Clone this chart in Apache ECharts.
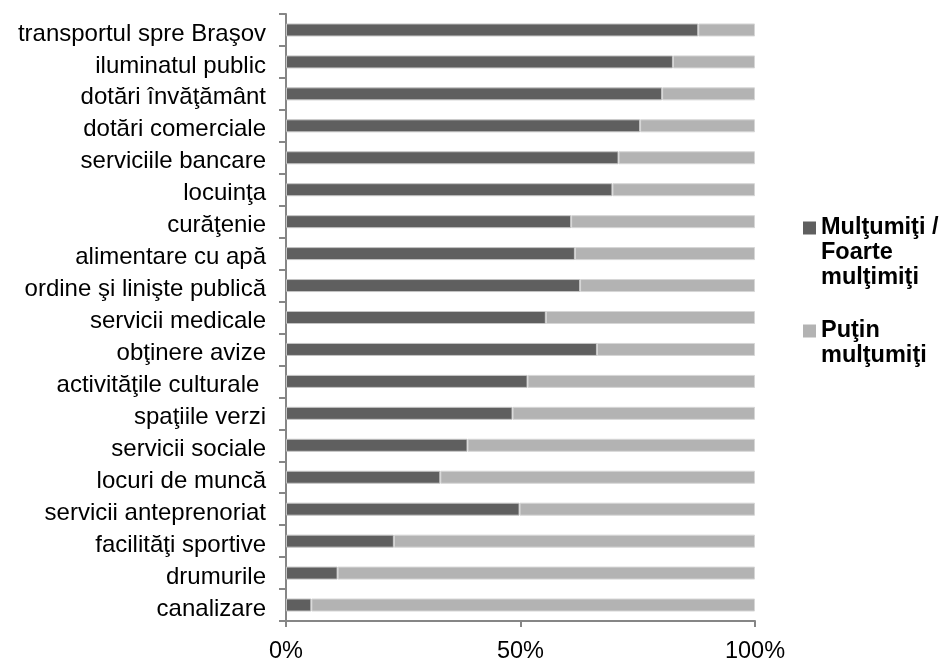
<!DOCTYPE html>
<html>
<head>
<meta charset="utf-8">
<script src="https://cdn.jsdelivr.net/npm/echarts@6/dist/echarts.min.js"></script>
<style>
html,body{margin:0;padding:0;background:#fff;}
#chart{width:944px;height:659px;}
</style>
</head>
<body>
<div id="chart"></div>
<script>
var categories = [
  'transportul spre Braşov',
  'iluminatul public',
  'dotări învăţământ',
  'dotări comerciale',
  'serviciile bancare',
  'locuinţa',
  'curăţenie',
  'alimentare cu apă',
  'ordine şi linişte publică',
  'servicii medicale',
  'obţinere avize',
  'activităţile culturale ',
  'spaţiile verzi',
  'servicii sociale',
  'locuri de muncă',
  'servicii anteprenoriat',
  'facilităţi sportive',
  'drumurile',
  'canalizare'
];
var seriesNames = ['Mulţumiţi / Foarte mulţimiţi', 'Puţin mulţumiţi'];
var legendLines = [
  ['Mulţumiţi /', 'Foarte', 'mulţimiţi'],
  ['Puţin', 'mulţumiţi']
];
var satisfied = [87.9, 82.5, 80.2, 75.5, 70.9, 69.6, 60.8, 61.6, 62.7, 55.4, 66.3, 51.5, 48.3, 38.7, 32.9, 49.8, 23.0, 11.0, 5.4];
var littleSatisfied = [12.1, 17.5, 19.8, 24.5, 29.1, 30.4, 39.2, 38.4, 37.3, 44.6, 33.7, 48.5, 51.7, 61.3, 67.1, 50.2, 77.0, 89.0, 94.6];
var tickValues = [0, 50, 100];

var colors = ['#5f5f5f', '#b3b3b3'];
var chart = echarts.init(document.getElementById('chart'), null, {renderer: 'canvas'});

function legendFormatter(name) {
  var idx = seriesNames.indexOf(name);
  var lines = legendLines[idx];
  var out = [];
  for (var i = 0; i < lines.length; i++) {
    if (i === 0) out.push('{sq' + idx + '|}{g|}{t|' + lines[i] + '}');
    else out.push('{pad|}{t|' + lines[i] + '}');
  }
  return out.join('\n');
}

var option = {
  backgroundColor: '#ffffff',
  animation: false,
  grid: {left: 286, right: 189, top: 14, bottom: 38, containLabel: false, outerBoundsMode: 'none'},
  legend: {
    orient: 'vertical',
    left: 793,
    top: 211,
    itemGap: 29,
    icon: 'none',
    itemWidth: 0,
    itemHeight: 10,
    data: seriesNames,
    formatter: legendFormatter,
    textStyle: {
      rich: {
        sq0: {width: 13, height: 13, backgroundColor: colors[0]},
        sq1: {width: 13, height: 13, backgroundColor: colors[1]},
        g: {width: 5},
        pad: {width: 18},
        t: {fontFamily: 'Liberation Sans, Arial, sans-serif', fontSize: 23.5, fontWeight: 'bold', color: '#000', lineHeight: 25}
      }
    }
  },
  xAxis: {
    type: 'value',
    min: tickValues[0],
    max: tickValues[tickValues.length - 1],
    interval: tickValues[1] - tickValues[0],
    axisLine: {show: true, lineStyle: {color: '#868686', width: 2}},
    axisTick: {show: true, length: 6, lineStyle: {color: '#868686', width: 2}},
    splitLine: {show: false},
    axisLabel: {
      formatter: '{value}%',
      margin: 19,
      color: '#000',
      fontFamily: 'Liberation Sans, Arial, sans-serif',
      fontSize: 23.5
    }
  },
  yAxis: {
    type: 'category',
    inverse: true,
    data: categories,
    axisLine: {show: true, lineStyle: {color: '#868686', width: 2}},
    axisTick: {show: true, length: 7, lineStyle: {color: '#868686', width: 2}},
    axisLabel: {
      margin: 20,
      formatter: '{a|{value}}',
      rich: {
        a: {
          padding: [8, 0, 0, 0],
          color: '#000',
          fontFamily: 'Liberation Sans, Arial, sans-serif',
          fontSize: 24
        }
      }
    }
  },
  series: [
    {
      name: seriesNames[0],
      type: 'bar',
      stack: 'total',
      barWidth: 13,
      data: satisfied,
      itemStyle: {color: colors[0], borderColor: '#c4c4c4', borderWidth: 1}
    },
    {
      name: seriesNames[1],
      type: 'bar',
      stack: 'total',
      barWidth: 13,
      data: littleSatisfied,
      itemStyle: {color: colors[1], borderColor: '#d6d6d6', borderWidth: 1}
    }
  ]
};
chart.setOption(option);
</script>
</body>
</html>
